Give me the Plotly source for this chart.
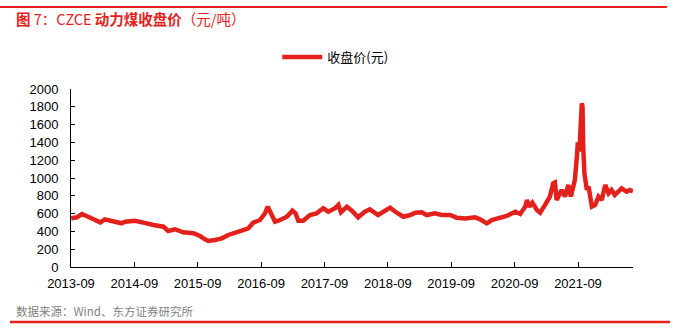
import plotly.graph_objects as go

dates = [
    "2013-09-02", "2013-10-05", "2013-11-03", "2013-12-01", "2014-01-09", "2014-02-17",
    "2014-03-15", "2014-04-23", "2014-06-20", "2014-07-09", "2014-09-05", "2014-10-23",
    "2014-11-21", "2014-12-20", "2015-02-16", "2015-03-15", "2015-04-23", "2015-06-10",
    "2015-08-07", "2015-09-15", "2015-10-13", "2015-11-02", "2015-12-10", "2016-01-18",
    "2016-02-25", "2016-04-03", "2016-05-11", "2016-06-19", "2016-07-17", "2016-08-25",
    "2016-09-23", "2016-10-09", "2016-10-28", "2016-11-20", "2016-12-19", "2017-01-27",
    "2017-02-28", "2017-03-18", "2017-04-03", "2017-05-01", "2017-06-09", "2017-07-17",
    "2017-08-25", "2017-09-23", "2017-11-01", "2017-11-20", "2017-12-05", "2018-01-08",
    "2018-02-06", "2018-03-14", "2018-04-22", "2018-05-20", "2018-07-07", "2018-08-06",
    "2018-09-14", "2018-10-22", "2018-11-30", "2019-01-08", "2019-02-06", "2019-03-15",
    "2019-04-13", "2019-05-30", "2019-07-08", "2019-08-25", "2019-10-03", "2019-11-20",
    "2020-01-17", "2020-02-15", "2020-03-24", "2020-04-22", "2020-05-30", "2020-07-17",
    "2020-09-04", "2020-10-03", "2020-11-01", "2020-11-11", "2020-11-24", "2020-12-12",
    "2021-01-07", "2021-01-26", "2021-02-24", "2021-03-13", "2021-03-23", "2021-04-11",
    "2021-04-21", "2021-05-01", "2021-05-30", "2021-06-18", "2021-07-07", "2021-07-22",
    "2021-08-14", "2021-08-26", "2021-08-31", "2021-09-09", "2021-09-17", "2021-09-23",
    "2021-09-27", "2021-10-01", "2021-10-08", "2021-10-22", "2021-11-01", "2021-11-20",
    "2021-12-09", "2021-12-28", "2022-01-16", "2022-02-05", "2022-02-24", "2022-03-13",
    "2022-04-01", "2022-05-10", "2022-06-08", "2022-06-27", "2022-07-15",
]
close_price = [
    547, 558, 595, 565, 536, 502,
    536, 517, 491, 509, 520, 498,
    491, 472, 453, 405, 424, 390,
    379, 348, 311, 292, 303, 322,
    360, 390, 408, 435, 498, 528,
    603, 678, 603, 509, 528, 565,
    633, 603, 520, 520, 584, 603,
    660, 622, 660, 697, 615, 678,
    633, 558, 622, 648, 584, 622,
    667, 610, 565, 584, 610, 615,
    584, 603, 584, 584, 554, 545,
    558, 536, 491, 528, 547, 573,
    622, 596, 678, 753, 678, 723,
    641, 610, 700, 753, 791, 941,
    950, 753, 866, 791, 922, 791,
    978, 1250, 1400, 1300, 1600, 1840,
    1800, 1352, 1053, 866, 903, 678,
    697, 791, 753, 922, 828, 866,
    809, 884, 847, 866, 850,
]

x_tick_vals = ["2013-09-01", "2014-09-01", "2015-09-01", "2016-09-01", "2017-09-01",
               "2018-09-01", "2019-09-01", "2020-09-01", "2021-09-01"]
x_tick_text = ["2013-09", "2014-09", "2015-09", "2016-09", "2017-09",
               "2018-09", "2019-09", "2020-09", "2021-09"]
y_tick_vals = [0, 200, 400, 600, 800, 1000, 1200, 1400, 1600, 1800, 2000]

RED = "#E2211C"
LAT = "Liberation Sans, Arial, sans-serif"
CJK = "Noto Sans CJK SC, sans-serif"

title_html = ("<b>图</b> 7：CZCE <b>动力煤收盘价</b>（元/吨）")

fig = go.Figure()
fig.add_trace(go.Scatter(
    x=dates, y=close_price, mode="lines", name="收盘价(元)",
    line=dict(color=RED, width=4.5),
))

fig.update_layout(
    width=678, height=328,
    margin=dict(l=71, r=45, t=89, b=61),
    paper_bgcolor="white", plot_bgcolor="white",
    showlegend=True,
    legend=dict(orientation="h", x=0.367, xanchor="left", y=1.18, yanchor="middle",
                font=dict(family=CJK, size=13, color="#000000"),
                bgcolor="rgba(0,0,0,0)", itemwidth=40),
    xaxis=dict(
        type="date", range=["2013-09-01", "2022-07-15"],
        tickmode="array", tickvals=x_tick_vals, ticktext=x_tick_text,
        ticks="inside", ticklen=5, tickcolor="#000", tickwidth=1,
        showline=True, linecolor="#000", linewidth=1,
        showgrid=False, zeroline=False,
        tickfont=dict(family=LAT, size=13, color="#000"),
        ticklabelstandoff=4,
    ),
    yaxis=dict(
        range=[0, 2000], tickmode="array", tickvals=y_tick_vals,
        ticks="inside", ticklen=4, tickcolor="#000", tickwidth=1,
        showline=True, linecolor="#000", linewidth=1,
        showgrid=False, zeroline=False,
        tickfont=dict(family=LAT, size=13, color="#000"),
        ticklabelstandoff=9,
    ),
    shapes=[
        dict(type="line", xref="paper", yref="paper", x0=-71/562, x1=(667-71)/562,
             y0=(328-61-7)/178, y1=(328-61-7)/178, line=dict(color=RED, width=2)),
        dict(type="line", xref="paper", yref="paper", x0=(10-71)/562, x1=(670-71)/562,
             y0=(267-322)/178, y1=(267-322)/178, line=dict(color=RED, width=2.5)),
    ],
    annotations=[
        dict(text=title_html, xref="paper", yref="paper",
             x=(14-71)/562, y=(267-19)/178, xanchor="left", yanchor="middle",
             showarrow=False, font=dict(family=CJK, size=14.5, color=RED)),
        dict(text="数据来源：Wind、东方证券研究所", xref="paper", yref="paper",
             x=(14-71)/562, y=(267-311)/178, xanchor="left", yanchor="middle",
             showarrow=False, font=dict(family=CJK, size=11.5, color="#7f7f7f")),
    ],
)

fig.write_html("out.html")
